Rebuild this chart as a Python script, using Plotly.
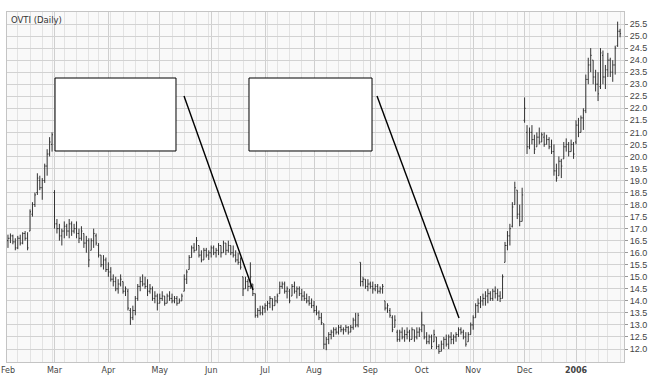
import pandas as pd
import plotly.graph_objects as go

# ---------------- data (OVTI daily) ----------------
holidays = ["2005-02-21", "2005-03-25", "2005-05-30", "2005-07-04", "2005-09-05",
            "2005-11-24", "2005-12-26", "2006-01-02", "2006-01-16"]

month_labels = ["Feb", "Mar", "Apr", "May", "Jun", "Jul", "Aug", "Sep", "Oct",
                "Nov", "Dec", "<b>2006</b>"]

y_ticks = [12.0, 12.5, 13.0, 13.5, 14.0, 14.5, 15.0, 15.5, 16.0, 16.5, 17.0, 17.5,
           18.0, 18.5, 19.0, 19.5, 20.0, 20.5, 21.0, 21.5, 22.0, 22.5, 23.0, 23.5,
           24.0, 24.5, 25.0, 25.5]

opens = [
    # Feb
    16.5, 16.6, 16.7, 16.45, 16.2, 16.6, 16.4, 16.8, 16.6, 16.9, 17.6, 18.0, 18.5, 19.0, 18.7, 19.0, 19.6, 20.1, 20.5,
    # Mar
    18.5, 17.2, 17.0, 16.7, 16.9, 17.1, 16.9, 17.2, 16.9, 17.0, 16.8, 16.6, 16.8, 16.4, 16.5, 16.1, 16.5, 16.7, 16.3, 15.9, 15.5, 15.7,
    # Apr
    15.3, 15.2, 14.9, 14.8, 14.5, 14.7, 14.8, 14.4, 14.4, 13.6, 13.3, 13.6, 14.1, 14.6, 14.8, 14.7, 14.6, 14.4, 14.5, 14.1, 14.2,
    # May
    13.9, 14.1, 14.2, 13.9, 14.2, 14.1, 14.0, 14.1, 13.9, 14.0, 14.4, 14.9, 15.3, 15.8, 16.2, 16.1, 16.3, 15.9, 15.7, 16.1, 15.9,
    # Jun
    16.0, 16.2, 16.0, 16.1, 16.3, 16.0, 16.4, 16.1, 16.3, 16.0, 15.9, 15.7, 15.6, 15.0, 14.5, 14.8, 14.6, 14.7, 14.3, 13.4, 13.6, 13.5,
    # Jul
    13.7, 13.8, 13.9, 14.1, 13.8, 14.0, 14.3, 14.6, 14.7, 14.4, 14.4, 14.2, 14.6, 14.4, 14.5, 14.3, 14.2, 14.1, 14.0, 13.9,
    # Aug
    13.8, 13.6, 13.5, 13.3, 13.05, 12.2, 12.4, 12.6, 12.7, 12.8, 12.7, 12.9, 12.8, 12.8, 12.9, 12.7, 12.9, 13.2, 13.0, 15.6, 14.8, 14.9, 14.6,
    # Sep
    14.7, 14.6, 14.5, 14.6, 14.4, 14.5, 14.0, 13.7, 13.6, 13.3, 12.9, 12.7, 12.4, 12.7, 12.5, 12.6, 12.7, 12.4, 12.8, 12.5, 12.7,
    # Oct
    12.8, 13.0, 12.5, 12.3, 12.5, 12.3, 12.5, 12.1, 11.9, 12.2, 12.4, 12.2, 12.5, 12.4, 12.5, 12.6, 12.8, 12.7, 12.5, 12.3, 12.6,
    # Nov
    13.0, 13.3, 13.8, 13.9, 14.0, 14.1, 14.2, 14.3, 14.1, 14.4, 14.3, 14.2, 14.1, 15.6, 16.3, 16.7, 17.1, 18.0, 18.6, 17.6, 17.3,
    # Dec
    21.5, 21.0, 20.4, 21.0, 20.7, 20.4, 20.8, 20.6, 20.8, 20.5, 20.7, 20.4, 20.2, 19.4, 19.2, 19.8, 19.9, 20.4, 20.5, 20.2, 20.5,
    # Jan 2006
    20.6, 21.3, 21.0, 21.6, 21.9, 23.2, 23.8, 24.0, 23.3, 23.0, 22.9, 24.2, 23.3, 23.6, 24.0, 23.5, 23.8, 24.6, 25.2,
]

highs = [
    16.75, 16.8, 16.75, 16.6, 16.7, 16.75, 16.85, 16.9, 16.85, 17.8, 18.1, 18.5, 19.3, 19.2, 19.1, 19.7, 20.3, 20.8, 21.0,
    18.6, 17.4, 17.2, 17.0, 17.3, 17.2, 17.4, 17.3, 17.2, 17.3, 17.0, 17.1, 16.8, 16.7, 16.6, 16.6, 17.0, 16.8, 16.4, 15.9, 15.9, 15.8,
    15.6, 15.4, 15.1, 15.0, 14.9, 15.1, 14.8, 14.6, 14.5, 13.7, 13.8, 14.2, 14.7, 15.0, 15.1, 15.0, 14.9, 14.7, 14.6, 14.4, 14.3,
    14.3, 14.4, 14.2, 14.3, 14.4, 14.3, 14.2, 14.2, 14.1, 14.3, 15.1, 15.3, 15.9, 16.3, 16.4, 16.65, 16.3, 16.1, 16.2, 16.2, 16.1,
    16.3, 16.3, 16.2, 16.4, 16.3, 16.5, 16.4, 16.5, 16.3, 16.3, 16.1, 16.0, 15.8, 15.0, 15.0, 14.9, 15.6, 14.7, 14.3, 13.7, 13.8, 13.8,
    13.9, 14.0, 14.2, 14.1, 14.2, 14.3, 14.8, 14.8, 14.8, 14.6, 14.5, 14.7, 14.8, 14.6, 14.6, 14.5, 14.4, 14.3, 14.2, 14.1,
    14.0, 13.8, 13.6, 13.5, 13.05, 12.5, 12.7, 12.8, 12.9, 12.9, 13.0, 13.0, 12.9, 13.0, 12.95, 13.0, 13.3, 13.5, 13.5, 15.6, 15.0, 14.9, 14.9,
    14.8, 14.8, 14.7, 14.7, 14.6, 14.7, 14.0, 13.9, 13.7, 13.4, 13.4, 12.8, 12.8, 12.9, 12.8, 12.9, 12.8, 12.9, 12.8, 12.9, 12.9,
    13.55, 13.0, 12.7, 12.6, 12.6, 12.8, 12.5, 12.2, 12.35, 12.5, 12.6, 12.6, 12.7, 12.6, 12.7, 12.9, 12.9, 12.8, 12.7, 12.7, 13.1,
    13.4, 13.9, 14.1, 14.2, 14.3, 14.4, 14.5, 14.4, 14.5, 14.6, 14.5, 14.4, 15.1, 16.45, 16.9, 17.2, 18.1, 18.95, 18.6, 18.0, 18.7,
    22.45, 21.3, 21.2, 21.3, 20.9, 21.0, 21.2, 21.0, 21.0, 20.9, 20.8, 20.7, 20.5, 19.7, 20.0, 19.9, 20.6, 20.75, 20.6, 20.7, 20.6,
    21.5, 21.6, 21.7, 22.0, 23.4, 24.1, 24.5, 24.0, 23.6, 23.5, 24.5, 24.4, 23.8, 24.3, 24.1, 24.0, 24.6, 25.6, 25.3,
]

lows = [
    16.2, 16.4, 16.35, 16.1, 16.15, 16.3, 16.35, 16.5, 16.1, 16.9, 17.5, 17.9, 18.4, 18.6, 18.2, 18.9, 19.2, 20.0, 20.2,
    17.0, 16.8, 16.5, 16.3, 16.6, 16.7, 16.6, 16.7, 16.8, 16.6, 16.4, 16.5, 16.2, 16.0, 15.4, 16.1, 16.2, 16.3, 15.8, 15.4, 15.3, 15.2,
    15.0, 14.8, 14.6, 14.4, 14.3, 14.6, 14.3, 14.2, 13.6, 13.0, 13.2, 13.4, 14.0, 14.4, 14.6, 14.5, 14.2, 14.3, 14.0, 13.9, 13.6,
    13.9, 14.0, 13.8, 13.9, 14.0, 13.9, 13.9, 13.8, 13.9, 14.0, 14.4, 14.7, 15.3, 15.8, 16.0, 16.1, 15.8, 15.6, 15.7, 15.8, 15.7,
    15.8, 15.9, 15.8, 15.9, 15.8, 16.0, 15.9, 16.0, 15.9, 15.8, 15.6, 15.5, 15.3, 14.2, 14.5, 14.4, 14.5, 14.2, 13.3, 13.3, 13.4, 13.4,
    13.5, 13.6, 13.7, 13.6, 13.8, 13.9, 14.3, 14.5, 14.3, 14.1, 13.9, 14.2, 14.3, 14.1, 14.2, 14.0, 14.0, 13.9, 13.8, 13.7,
    13.5, 13.4, 13.2, 13.0, 12.0, 11.95, 12.2, 12.4, 12.5, 12.6, 12.6, 12.7, 12.6, 12.7, 12.6, 12.7, 12.8, 12.9, 12.9, 14.6, 14.6, 14.5, 14.4,
    14.5, 14.3, 14.4, 14.3, 14.3, 14.3, 13.6, 13.5, 13.3, 12.7, 12.9, 12.3, 12.3, 12.4, 12.3, 12.4, 12.3, 12.4, 12.3, 12.4, 12.5,
    12.7, 12.4, 12.2, 12.2, 12.0, 12.3, 12.0, 11.8, 11.9, 12.0, 12.1, 12.0, 12.2, 12.2, 12.3, 12.5, 12.6, 12.4, 12.1, 12.3, 12.6,
    12.8, 13.3, 13.5, 13.7, 13.8, 13.8, 13.9, 14.0, 14.0, 14.1, 14.0, 13.95, 14.1, 15.6, 16.1, 16.3, 17.05, 18.0, 17.4, 17.1, 17.3,
    21.4, 20.1, 20.3, 20.5, 20.1, 20.4, 20.5, 20.6, 20.4, 20.5, 20.3, 20.1, 19.2, 18.95, 19.2, 19.1, 19.9, 20.2, 20.0, 20.2, 19.9,
    20.5, 20.8, 21.0, 21.1, 21.8, 23.0, 23.5, 23.0, 22.7, 22.3, 22.8, 23.0, 22.8, 23.3, 23.3, 23.1, 23.4, 24.55, 24.95,
]

closes = [
    16.6, 16.7, 16.45, 16.2, 16.6, 16.4, 16.8, 16.6, 16.2, 17.7, 18.0, 18.4, 19.1, 18.7, 19.0, 19.6, 20.1, 20.6, 20.9,
    17.2, 17.0, 16.7, 16.9, 17.1, 16.9, 17.2, 16.9, 17.0, 16.8, 16.6, 16.9, 16.4, 16.5, 15.7, 16.5, 16.8, 16.4, 15.9, 15.5, 15.7, 15.3,
    15.2, 14.9, 14.8, 14.5, 14.7, 14.9, 14.4, 14.5, 13.7, 13.3, 13.6, 14.1, 14.6, 14.8, 14.7, 14.6, 14.4, 14.5, 14.1, 14.2, 13.9,
    14.1, 14.2, 13.9, 14.2, 14.1, 14.0, 14.1, 13.9, 14.0, 14.2, 14.9, 15.2, 15.8, 16.2, 16.1, 16.5, 15.9, 15.7, 16.1, 15.9, 16.0,
    16.2, 16.0, 16.1, 16.3, 16.0, 16.4, 16.1, 16.3, 16.0, 15.9, 15.7, 15.6, 15.4, 14.5, 14.8, 14.6, 15.0, 14.3, 13.4, 13.6, 13.5, 13.7,
    13.8, 13.9, 14.1, 13.8, 14.0, 14.2, 14.6, 14.7, 14.4, 14.5, 14.0, 14.6, 14.4, 14.5, 14.3, 14.2, 14.1, 14.0, 13.9, 13.8,
    13.6, 13.5, 13.3, 13.1, 12.2, 12.4, 12.6, 12.7, 12.8, 12.7, 12.9, 12.8, 12.8, 12.9, 12.7, 12.9, 13.2, 13.0, 13.4, 14.8, 14.9, 14.6, 14.7,
    14.6, 14.5, 14.6, 14.4, 14.5, 14.6, 13.7, 13.8, 13.4, 12.8, 13.2, 12.4, 12.7, 12.5, 12.6, 12.7, 12.4, 12.8, 12.5, 12.7, 12.8,
    13.0, 12.5, 12.3, 12.5, 12.1, 12.6, 12.1, 11.9, 12.2, 12.4, 12.2, 12.5, 12.4, 12.5, 12.6, 12.8, 12.7, 12.5, 12.2, 12.6, 13.0,
    13.3, 13.8, 13.9, 14.0, 14.1, 14.2, 14.3, 14.1, 14.4, 14.3, 14.2, 14.1, 15.0, 16.3, 16.7, 17.0, 17.9, 18.7, 17.6, 17.3, 18.4,
    22.0, 20.4, 21.0, 20.7, 20.3, 20.8, 20.6, 20.9, 20.5, 20.7, 20.4, 20.2, 19.4, 19.1, 19.8, 19.6, 20.4, 20.5, 20.2, 20.5, 20.1,
    21.3, 21.0, 21.6, 21.9, 23.2, 23.8, 24.2, 23.3, 23.0, 22.6, 24.3, 23.3, 23.6, 24.0, 23.5, 23.8, 24.5, 25.2, 25.1,
]

# ---------------- trading calendar ----------------
dates = pd.bdate_range("2005-02-01", "2006-01-30")
dates = dates[~dates.isin(pd.to_datetime(holidays))]
assert len(dates) == len(opens) == len(highs) == len(lows) == len(closes), (
    len(dates), len(opens), len(highs), len(lows), len(closes))
idx = list(range(len(dates)))

month_starts = [i for i in idx if i == 0 or dates[i].month != dates[i - 1].month]
week_starts = [i for i in idx if i > 0 and dates[i].weekday() < dates[i - 1].weekday()
               and i not in month_starts]

fig = go.Figure()
fig.add_trace(go.Ohlc(
    x=idx, open=opens, high=highs, low=lows, close=closes,
    increasing=dict(line=dict(color="#333333", width=1)),
    decreasing=dict(line=dict(color="#333333", width=1)),
    tickwidth=0.4,
    text=[d.strftime("%Y-%m-%d") for d in dates],
    hoverinfo="text+y",
    showlegend=False,
))

# placeholder boxes and pointer lines (paper coords)
box_style = dict(type="rect", xref="paper", yref="paper",
                 line=dict(color="black", width=1), fillcolor="white", layer="above")
fig.add_shape(x0=0.0778, x1=0.2739, y0=0.6029, y1=0.8114, **box_style)
fig.add_shape(x0=0.3922, x1=0.5916, y0=0.6029, y1=0.8114, **box_style)
line_style = dict(type="line", xref="paper", yref="paper",
                  line=dict(color="black", width=1.4), layer="above")
fig.add_shape(x0=0.2869, y0=0.760, x1=0.3987, y1=0.2057, **line_style)
fig.add_shape(x0=0.5997, y0=0.760, x1=0.7326, y1=0.1257, **line_style)

fig.add_annotation(text="OVTI (Daily)", xref="paper", yref="paper", x=0.003, y=0.997,
                   xanchor="left", yanchor="top", showarrow=False,
                   font=dict(family="DejaVu Sans", size=8.5, color="#333333"))

fig.update_layout(
    width=648, height=377,
    margin=dict(l=7, r=24, t=12, b=15, autoexpand=False),
    paper_bgcolor="white", plot_bgcolor="#f9f9f9",
    xaxis=dict(
        range=[-0.4, 251.6], rangeslider=dict(visible=False), automargin=False,
        tickmode="array", tickvals=month_starts, ticktext=month_labels,
        showgrid=True, gridcolor="#cfcfcf", gridwidth=1,
        minor=dict(tickmode="array", tickvals=week_starts, showgrid=True,
                   gridcolor="#e3e3e3", gridwidth=1),
        ticks="", showline=True, linecolor="#c4c4c4", mirror=True,
        tickfont=dict(family="DejaVu Sans", size=8, color="#444444"),
        zeroline=False, fixedrange=True,
    ),
    yaxis=dict(
        range=[11.46, 26.0], side="right", automargin=False,
        tickmode="array", tickvals=y_ticks, tickformat=".1f",
        showgrid=True, gridcolor="#d2d2d2", gridwidth=1,
        ticks="outside", ticklen=3, tickcolor="#999999",
        showline=True, linecolor="#c4c4c4", mirror=True,
        tickfont=dict(family="Liberation Sans", size=9, color="#444444"),
        zeroline=False,
    ),
)

fig.write_html("out.html")
